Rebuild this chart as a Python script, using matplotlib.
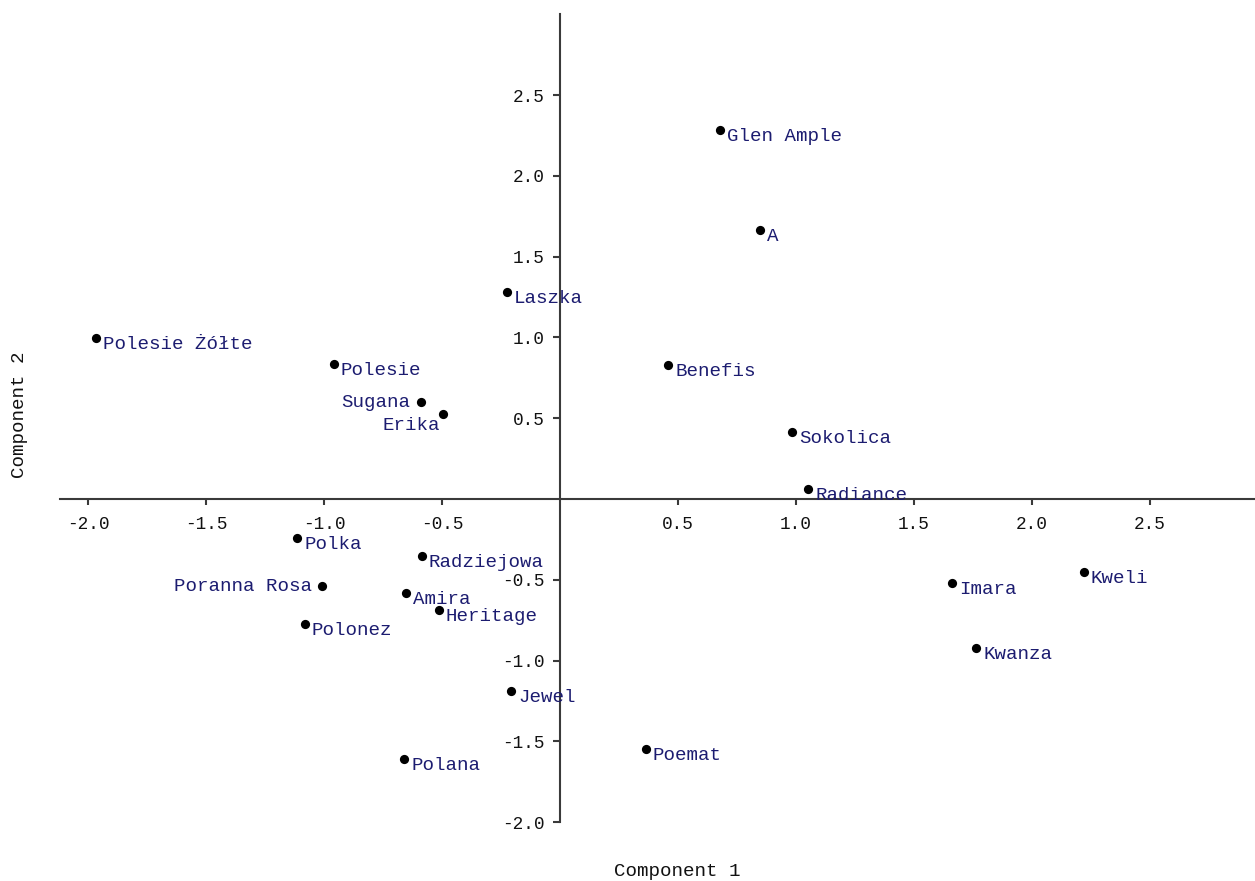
import matplotlib
matplotlib.use("Agg")
import matplotlib.pyplot as plt

names = ["Glen Ample", "A", "Laszka", "Polesie Żółte", "Polesie", "Benefis",
         "Sugana", "Erika", "Sokolica", "Radiance", "Polka", "Radziejowa",
         "Poranna Rosa", "Amira", "Heritage", "Polonez", "Imara", "Kweli",
         "Kwanza", "Jewel", "Poemat", "Polana"]
comp1 = [0.678, 0.847, -0.225, -1.966, -0.958, 0.458,
         -0.589, -0.496, 0.983, 1.051, -1.114, -0.585,
         -1.008, -0.653, -0.513, -1.081, 1.661, 2.220,
         1.763, -0.208, 0.364, -0.661]
comp2 = [2.283, 1.665, 1.281, 0.996, 0.835, 0.829,
         0.600, 0.526, 0.415, 0.062, -0.241, -0.353,
         -0.538, -0.582, -0.687, -0.774, -0.520, -0.452,
         -0.922, -1.188, -1.547, -1.609]
xticks = [-2.0, -1.5, -1.0, -0.5, 0.5, 1.0, 1.5, 2.0, 2.5]
yticks = [-2.0, -1.5, -1.0, -0.5, 0.5, 1.0, 1.5, 2.0, 2.5]

FONT = "Liberation Mono"
LABEL_COLOR = "#1c1c70"
AXIS_COLOR = "#3a3a3a"

fig = plt.figure(figsize=(12.55, 8.81), dpi=100)
ax = fig.add_axes([0, 0, 1, 1])
ax.set_xlim(-2.373, 2.945)
ax.set_ylim(-2.364, 3.088)

for s in ["top", "right"]:
    ax.spines[s].set_visible(False)
ax.spines["left"].set_position(("data", 0))
ax.spines["bottom"].set_position(("data", 0))
ax.spines["left"].set_bounds(-2.0, 3.0)
ax.spines["bottom"].set_bounds(-2.12, 2.945)
for s in ["left", "bottom"]:
    ax.spines[s].set_color(AXIS_COLOR)
    ax.spines[s].set_linewidth(1.5)

ax.set_xticks(xticks)
ax.set_yticks(yticks)
ax.set_xticklabels([f"{v:.1f}" for v in xticks])
ax.set_yticklabels([f"{v:.1f}" for v in yticks])
ax.tick_params(axis="x", direction="out", length=4, width=1.5, color=AXIS_COLOR,
               pad=8, labelsize=12.8)
ax.tick_params(axis="y", direction="out", length=5, width=1.5, color=AXIS_COLOR,
               pad=6, labelsize=12.8)
for lab in ax.get_xticklabels() + ax.get_yticklabels():
    lab.set_fontfamily(FONT)
    lab.set_color("#111111")

ax.scatter(comp1, comp2, s=44, color="black", zorder=3, linewidths=0)

px = 0.72  # points per pixel
special = {
    "Sugana": (-11, 0, "right"),
    "Erika": (-3, -12, "right"),
    "Poranna Rosa": (-10, -0.5, "right"),
}
for n, x, y in zip(names, comp1, comp2):
    dx, dy, ha = special.get(n, (7, -6.5, "left"))
    ax.annotate(n, (x, y), xytext=(dx * px, dy * px), textcoords="offset points",
                ha=ha, va="center", fontsize=13.8, family=FONT, color=LABEL_COLOR)

fig.text(677 / 1255, 1 - 871 / 881, "Component 1", ha="center", va="center",
         fontsize=13.8, family=FONT, color="#111111")
fig.text(20 / 1255, 1 - 415 / 881, "Component 2", ha="center", va="center",
         rotation=90, fontsize=13.8, family=FONT, color="#111111")

fig.savefig("out.png", dpi=100)
